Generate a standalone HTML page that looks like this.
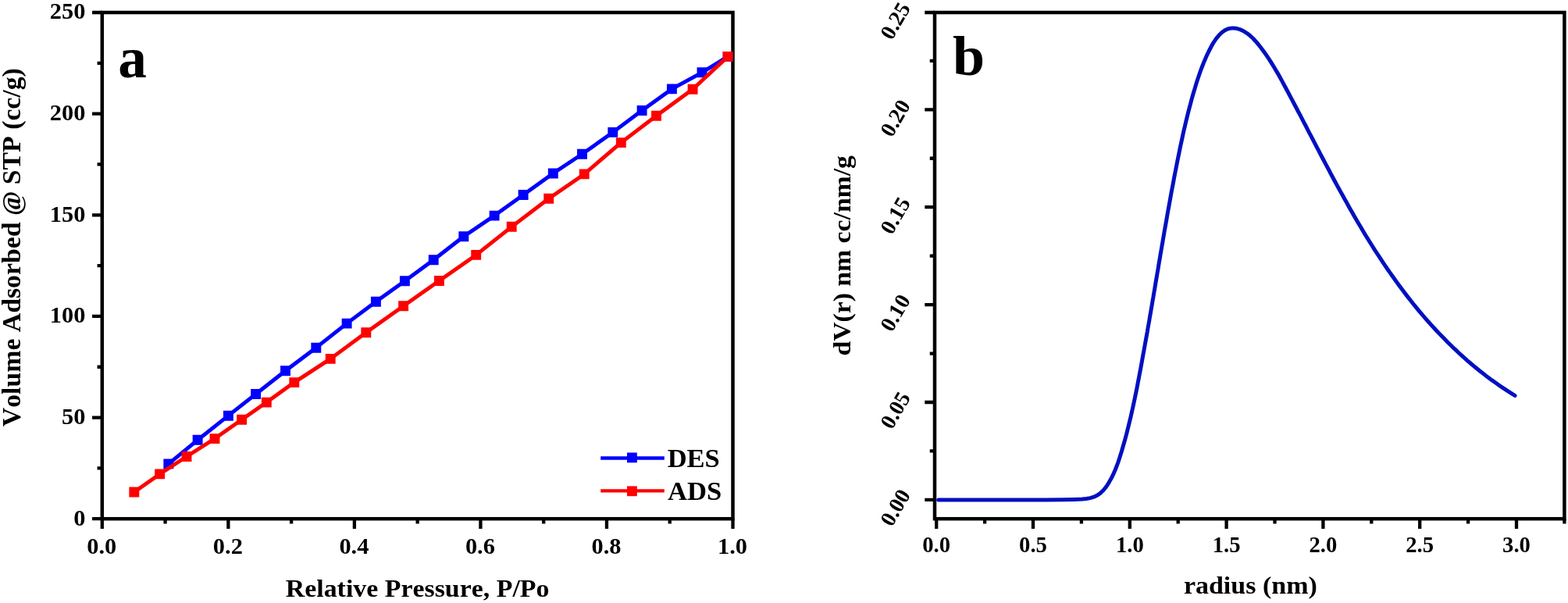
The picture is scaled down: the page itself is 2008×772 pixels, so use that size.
<!DOCTYPE html>
<html lang="en"><head><meta charset="utf-8"><title>Adsorption isotherm and pore size distribution</title>
<style>
html,body{margin:0;padding:0;background:#fff;}
body{width:2008px;height:772px;overflow:hidden;font-family:"Liberation Serif", "Times New Roman", serif;}
svg{display:block;}
</style></head><body>
<svg width="2008" height="772" viewBox="0 0 2008 772" font-family="'Liberation Serif', 'Times New Roman', serif" font-weight="bold" fill="#000" style="font-kerning:none">
<rect width="2008" height="772" fill="#fff"/>
<g id="chart-a">
<rect x="130.8" y="16" width="807.7" height="648.2" fill="none" stroke="#000" stroke-width="4.5"/>
<polyline points="215.8,593.9 253.1,563.3 292.4,532.2 327.6,504.5 365.5,474.8 404.8,445.2 444.1,414.1 481.4,386.3 518.4,359.8 555.2,332.8 593.8,302.7 633.1,276.1 670.1,249.5 708.3,222 745.5,197.3 784.8,169.4 822.1,141.5 860.4,113.9 899,92.8 932.1,72.4" fill="none" stroke="#0000ff" stroke-width="4.9" stroke-linejoin="round"/>
<path d="M209.35 587.45h12.9v12.9h-12.9zM246.65 556.85h12.9v12.9h-12.9zM285.95 525.75h12.9v12.9h-12.9zM321.15 498.05h12.9v12.9h-12.9zM359.05 468.35h12.9v12.9h-12.9zM398.35 438.75h12.9v12.9h-12.9zM437.65 407.65h12.9v12.9h-12.9zM474.95 379.85h12.9v12.9h-12.9zM511.95 353.35h12.9v12.9h-12.9zM548.75 326.35h12.9v12.9h-12.9zM587.35 296.25h12.9v12.9h-12.9zM626.65 269.65h12.9v12.9h-12.9zM663.65 243.05h12.9v12.9h-12.9zM701.85 215.55h12.9v12.9h-12.9zM739.05 190.85h12.9v12.9h-12.9zM778.35 162.95h12.9v12.9h-12.9zM815.65 135.05h12.9v12.9h-12.9zM853.95 107.45h12.9v12.9h-12.9zM892.55 86.35h12.9v12.9h-12.9zM925.65 65.95h12.9v12.9h-12.9z" fill="#0000ff"/>
<polyline points="171.8,630 204.6,606.9 239,584.5 275,561.6 309.6,537.2 341.3,515.1 376.8,489.6 423.2,459.4 468.8,425.8 516.6,391.8 562.4,359.5 609.7,326.4 655.2,290.3 702.7,254.2 748.2,222.9 795.3,182.6 840.5,148.3 887.1,114.2 932.1,72.4" fill="none" stroke="#ff0000" stroke-width="4.9" stroke-linejoin="round"/>
<path d="M165.35 623.55h12.9v12.9h-12.9zM198.15 600.45h12.9v12.9h-12.9zM232.55 578.05h12.9v12.9h-12.9zM268.55 555.15h12.9v12.9h-12.9zM303.15 530.75h12.9v12.9h-12.9zM334.85 508.65h12.9v12.9h-12.9zM370.35 483.15h12.9v12.9h-12.9zM416.75 452.95h12.9v12.9h-12.9zM462.35 419.35h12.9v12.9h-12.9zM510.15 385.35h12.9v12.9h-12.9zM555.95 353.05h12.9v12.9h-12.9zM603.25 319.95h12.9v12.9h-12.9zM648.75 283.85h12.9v12.9h-12.9zM696.25 247.75h12.9v12.9h-12.9zM741.75 216.45h12.9v12.9h-12.9zM788.85 176.15h12.9v12.9h-12.9zM834.05 141.85h12.9v12.9h-12.9zM880.65 107.75h12.9v12.9h-12.9zM925.65 65.95h12.9v12.9h-12.9z" fill="#ff0000"/>
<path d="M130.8 664.2h-12.75M130.8 534.56h-12.75M130.8 404.92h-12.75M130.8 275.28h-12.75M130.8 145.64h-12.75M130.8 16h-12.75" stroke="#000" stroke-width="4.3" fill="none"/>
<path d="M130.8 599.38h-6.25M130.8 469.74h-6.25M130.8 340.1h-6.25M130.8 210.46h-6.25M130.8 80.82h-6.25" stroke="#000" stroke-width="4.3" fill="none"/>
<path d="M130.8 664.2v12.75M292.34 664.2v12.75M453.88 664.2v12.75M615.42 664.2v12.75M776.96 664.2v12.75M938.5 664.2v12.75" stroke="#000" stroke-width="4.3" fill="none"/>
<path d="M211.57 664.2v6.25M373.11 664.2v6.25M534.65 664.2v6.25M696.19 664.2v6.25M857.73 664.2v6.25" stroke="#000" stroke-width="4.3" fill="none"/>
<text transform="translate(109.4 673.1)" font-size="30.4" text-anchor="end">0</text>
<text transform="translate(109.4 543.26)" font-size="30.4" text-anchor="end">50</text>
<text transform="translate(109.4 413.42)" font-size="30.4" text-anchor="end">100</text>
<text transform="translate(109.4 283.58)" font-size="30.4" text-anchor="end">150</text>
<text transform="translate(109.4 153.74)" font-size="30.4" text-anchor="end">200</text>
<text transform="translate(109.4 23.9)" font-size="30.4" text-anchor="end">250</text>
<text transform="translate(130.3 709.2)" font-size="30.4" text-anchor="middle">0.0</text>
<text transform="translate(291.84 709.2)" font-size="30.4" text-anchor="middle">0.2</text>
<text transform="translate(453.38 709.2)" font-size="30.4" text-anchor="middle">0.4</text>
<text transform="translate(614.92 709.2)" font-size="30.4" text-anchor="middle">0.6</text>
<text transform="translate(776.46 709.2)" font-size="30.4" text-anchor="middle">0.8</text>
<text transform="translate(938 709.2)" font-size="30.4" text-anchor="middle">1.0</text>
<text transform="translate(365.78 763.8) scale(1.0394 1)" font-size="32.6">Relative Pressure, P/Po</text>
<text transform="translate(25.9 546.16) rotate(-90) scale(1.0235 1)" font-size="33">Volume Adsorbed @ STP (cc/g)</text>
<text transform="translate(151.26 99.3) scale(0.9778 1)" font-size="75">a</text>
<path d="M769.2 586.5H850.8" stroke="#0000ff" stroke-width="4.4"/><rect x="803" y="579.5" width="12.8" height="12.8" fill="#0000ff"/>
<path d="M769.2 628.4H850.8" stroke="#ff0000" stroke-width="4.4"/><rect x="803" y="622.4" width="12.8" height="12.8" fill="#ff0000"/>
<text transform="translate(854.68 597.8) scale(1.0458 1)" font-size="33">DES</text>
<text transform="translate(854.94 639.7) scale(1.0496 1)" font-size="33">ADS</text>
</g>
<g id="chart-b">
<rect x="1197" y="16" width="806.4" height="648.2" fill="none" stroke="#000" stroke-width="4.5"/>
<path d="M1201.7 639.9 L1340 639.9 L1362 639.8 L1376 639.5 L1381.1 639.3 L1386.1 639 L1391.1 638.5 L1396.1 637.6 L1400.9 636.2 L1405.4 634 L1409.5 631.1 L1413.1 627.5 L1416.3 623.6 L1419.1 619.4 L1421.6 615.1 L1424 610.7 L1426.2 606.1 L1428.2 601.5 L1430 596.8 L1431.8 592.1 L1433.4 587.3 L1434.9 582.5 L1436.4 577.7 L1437.8 572.8 L1439.2 568 L1440.6 563.1 L1441.9 558.3 L1443.2 553.4 L1444.4 548.5 L1445.6 543.6 L1446.8 538.7 L1448 533.8 L1449.1 528.9 L1450.2 524 L1451.3 519.1 L1452.3 514.2 L1453.4 509.2 L1454.4 504.3 L1455.4 499.4 L1456.4 494.4 L1457.3 489.5 L1458.3 484.5 L1459.2 479.6 L1460.2 474.6 L1461.1 469.7 L1462 464.7 L1462.9 459.8 L1463.8 454.8 L1464.7 449.9 L1465.6 444.9 L1466.5 439.9 L1467.4 435 L1468.3 430 L1469.2 425.1 L1470 420.1 L1470.9 415.1 L1471.8 410.2 L1472.6 405.2 L1473.5 400.2 L1474.3 395.3 L1475.2 390.3 L1476 385.3 L1476.9 380.4 L1477.7 375.4 L1478.6 370.4 L1479.4 365.5 L1480.2 360.5 L1481.1 355.5 L1481.9 350.6 L1482.8 345.6 L1483.6 340.6 L1484.4 335.7 L1485.3 330.7 L1486.1 325.7 L1487 320.8 L1487.8 315.8 L1488.7 310.8 L1489.5 305.9 L1490.4 300.9 L1491.2 295.9 L1492.1 291 L1493 286 L1493.9 281 L1494.7 276.1 L1495.6 271.1 L1496.5 266.2 L1497.4 261.2 L1498.3 256.2 L1499.2 251.3 L1500.1 246.3 L1501 241.4 L1502 236.4 L1502.9 231.5 L1503.8 226.5 L1504.8 221.6 L1505.8 216.6 L1506.7 211.7 L1507.7 206.7 L1508.7 201.8 L1509.7 196.9 L1510.7 191.9 L1511.7 187 L1512.8 182.1 L1513.9 177.1 L1514.9 172.2 L1516 167.3 L1517.2 162.4 L1518.3 157.5 L1519.5 152.6 L1520.7 147.7 L1521.9 142.8 L1523.2 137.9 L1524.5 133.1 L1525.8 128.2 L1527.1 123.3 L1528.5 118.5 L1530 113.7 L1531.4 108.9 L1532.9 104 L1534.5 99.3 L1536.1 94.5 L1537.8 89.7 L1539.6 85 L1541.4 80.3 L1543.4 75.7 L1545.4 71.1 L1547.6 66.5 L1549.9 62 L1552.2 57.6 L1554.8 53.3 L1557.7 49.1 L1560.9 45.3 L1564.5 41.8 L1568.6 38.8 L1573.1 36.7 L1578.1 35.9 L1583.1 36.3 L1588 37.7 L1592.5 39.8 L1596.8 42.5 L1600.8 45.6 L1604.5 49 L1607.9 52.7 L1611.2 56.5 L1614.3 60.5 L1617.3 64.5 L1620.3 68.6 L1623.1 72.7 L1625.9 76.9 L1628.6 81.2 L1631.3 85.5 L1633.8 89.8 L1636.4 94.1 L1638.9 98.5 L1641.3 102.9 L1643.7 107.4 L1646.1 111.8 L1648.5 116.2 L1650.9 120.7 L1653.2 125.1 L1655.6 129.6 L1657.9 134 L1660.3 138.5 L1662.6 143 L1665 147.4 L1667.3 151.9 L1669.6 156.3 L1672 160.8 L1674.3 165.3 L1676.6 169.8 L1678.9 174.2 L1681.3 178.7 L1683.6 183.2 L1685.9 187.6 L1688.3 192.1 L1690.6 196.6 L1692.9 201 L1695.3 205.5 L1697.6 209.9 L1700 214.4 L1702.4 218.8 L1704.7 223.3 L1707.1 227.7 L1709.5 232.2 L1711.9 236.6 L1714.3 241 L1716.7 245.4 L1719.2 249.8 L1721.6 254.2 L1724.1 258.6 L1726.5 263 L1729 267.4 L1731.5 271.8 L1734 276.2 L1736.5 280.5 L1739.1 284.9 L1741.7 289.2 L1744.2 293.5 L1746.8 297.9 L1749.4 302.2 L1752.1 306.5 L1754.7 310.7 L1757.4 315 L1760.1 319.3 L1762.8 323.5 L1765.6 327.7 L1768.4 331.9 L1771.1 336.1 L1774 340.3 L1776.8 344.5 L1779.7 348.6 L1782.6 352.7 L1785.5 356.8 L1788.4 360.9 L1791.4 365 L1794.4 369.1 L1797.4 373.1 L1800.5 377.1 L1803.6 381.1 L1806.7 385 L1809.8 389 L1813 392.9 L1816.2 396.8 L1819.4 400.6 L1822.7 404.5 L1826 408.3 L1829.3 412 L1832.7 415.8 L1836.1 419.5 L1839.5 423.2 L1843 426.9 L1846.5 430.5 L1850 434.1 L1853.5 437.7 L1857.1 441.2 L1860.7 444.8 L1864.4 448.2 L1868.1 451.7 L1871.8 455.1 L1875.5 458.4 L1879.3 461.8 L1883.1 465 L1887 468.3 L1890.9 471.5 L1894.8 474.7 L1898.8 477.8 L1902.7 480.9 L1906.8 483.9 L1910.8 486.9 L1914.9 489.8 L1919 492.7 L1923.2 495.6 L1927.4 498.4 L1931.6 501.1 L1935.9 503.8 L1940.1 506.5" fill="none" stroke="#0010c0" stroke-width="5" stroke-linejoin="round" stroke-linecap="round"/>
<path d="M1197 639.9h-12.75M1197 515h-12.75M1197 390.1h-12.75M1197 265.2h-12.75M1197 140.3h-12.75M1197 16h-12.75" stroke="#000" stroke-width="4.3" fill="none"/>
<path d="M1197 577.45h-6.25M1197 452.55h-6.25M1197 327.65h-6.25M1197 202.75h-6.25M1197 77.85h-6.25" stroke="#000" stroke-width="4.3" fill="none"/>
<path d="M1199.2 664.2v12.75M1323 664.2v12.75M1446.8 664.2v12.75M1570.6 664.2v12.75M1694.4 664.2v12.75M1818.2 664.2v12.75M1942 664.2v12.75" stroke="#000" stroke-width="4.3" fill="none"/>
<path d="M1261.1 664.2v6.25M1384.9 664.2v6.25M1508.7 664.2v6.25M1632.5 664.2v6.25M1756.3 664.2v6.25M1880.1 664.2v6.25M2003.4 664.2v6.25" stroke="#000" stroke-width="4.3" fill="none"/>
<text transform="translate(1199.2 707.2) scale(1.01 1)" font-size="28.4" text-anchor="middle">0.0</text>
<text transform="translate(1323 707.2) scale(1.01 1)" font-size="28.4" text-anchor="middle">0.5</text>
<text transform="translate(1446.8 707.2) scale(1.01 1)" font-size="28.4" text-anchor="middle">1.0</text>
<text transform="translate(1570.6 707.2) scale(1.01 1)" font-size="28.4" text-anchor="middle">1.5</text>
<text transform="translate(1694.4 707.2) scale(1.01 1)" font-size="28.4" text-anchor="middle">2.0</text>
<text transform="translate(1818.2 707.2) scale(1.01 1)" font-size="28.4" text-anchor="middle">2.5</text>
<text transform="translate(1942 707.2) scale(1.01 1)" font-size="28.4" text-anchor="middle">3.0</text>
<text transform="translate(1154.5 654.45) rotate(-60)" font-size="27.9" text-anchor="middle">0.00</text>
<text transform="translate(1154.5 529.81) rotate(-60)" font-size="27.9" text-anchor="middle">0.05</text>
<text transform="translate(1154.5 405.17) rotate(-60)" font-size="27.9" text-anchor="middle">0.10</text>
<text transform="translate(1154.5 280.53) rotate(-60)" font-size="27.9" text-anchor="middle">0.15</text>
<text transform="translate(1154.5 155.89) rotate(-60)" font-size="27.9" text-anchor="middle">0.20</text>
<text transform="translate(1154.5 31.25) rotate(-60)" font-size="27.9" text-anchor="middle">0.25</text>
<text transform="translate(1515.89 760.1) scale(1.0825 1)" font-size="31.4">radius (nm)</text>
<text transform="translate(1088.9 455.54) rotate(-90) scale(1.0737 1)" font-size="31.4">dV(r) nm cc/nm/g</text>
<text transform="translate(1220.07 96.3) scale(1.0250 1)" font-size="72">b</text>
</g>
</svg>
</body></html>
